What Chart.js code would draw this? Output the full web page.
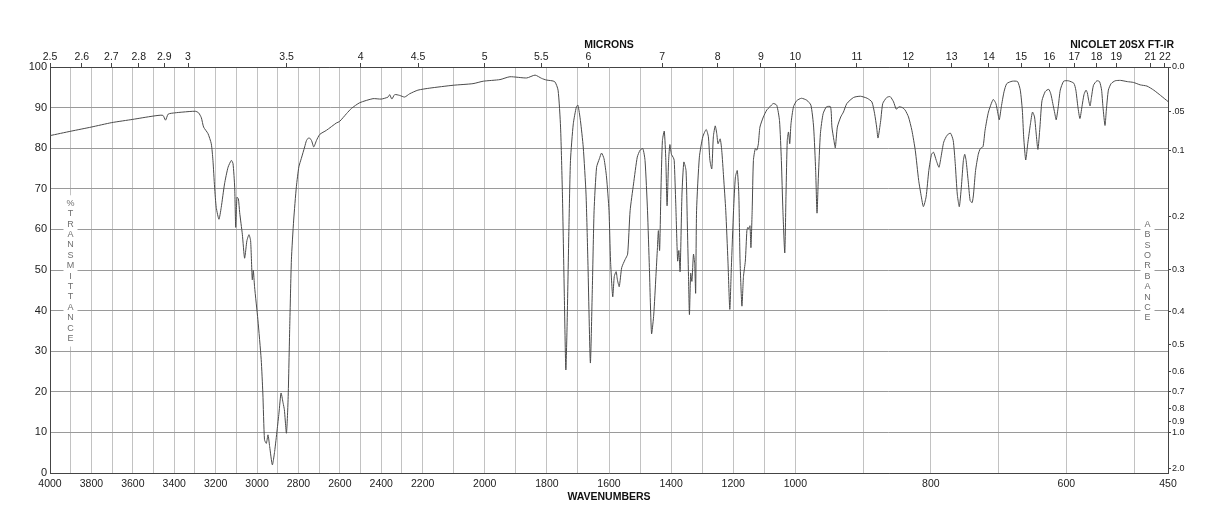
<!DOCTYPE html>
<html>
<head>
<meta charset="utf-8">
<title>IR spectrum</title>
<script src="https://cdn.jsdelivr.net/npm/chart.js@4.4.1/dist/chart.umd.min.js"></script>
<style>
  html, body { margin: 0; padding: 0; background: #fff; }
  #wrap { width: 1218px; height: 528px; }
</style>
</head>
<body>
<div id="wrap"><canvas id="irChart" width="1218" height="528"></canvas></div>
<script>
// Spectrum (cm-1, %T)
const wavenumbers = [
  4000, 3898, 3801, 3702, 3600, 3503, 3455, 3442, 3429, 3398, 3358, 3298, 3282, 3269, 3258, 3237,
  3221, 3213, 3205, 3197, 3184, 3173, 3157, 3140, 3124, 3116, 3108, 3103, 3097, 3090, 3084, 3071,
  3060, 3049, 3039, 3031, 3023, 3018, 3012, 2996, 2980, 2972, 2964, 2955, 2947, 2939, 2926, 2915,
  2903, 2894, 2884, 2874, 2868, 2858, 2850, 2842, 2834, 2823, 2810, 2798, 2786, 2770, 2761, 2749,
  2737, 2726, 2713, 2697, 2665, 2617, 2601, 2568, 2544, 2504, 2440, 2400, 2367, 2359, 2349, 2335,
  2311, 2287, 2263, 2223, 2177, 2102, 2038, 2005, 1951, 1919, 1865, 1838, 1817, 1802, 1775, 1764,
  1756, 1750, 1744, 1739, 1735, 1729, 1724, 1715, 1705, 1700, 1692, 1683, 1674, 1668, 1660, 1654,
  1648, 1640, 1631, 1624, 1616, 1608, 1600, 1595, 1588, 1583, 1577, 1573, 1567, 1559, 1548, 1540,
  1532, 1521, 1509, 1500, 1491, 1484, 1476, 1470, 1463, 1456, 1449, 1444, 1441, 1437, 1433, 1428,
  1422, 1417, 1413, 1408, 1404, 1399, 1393, 1390, 1385, 1379, 1375, 1371, 1365, 1359, 1352, 1348,
  1344, 1341, 1337, 1333, 1328, 1324, 1321, 1318, 1309, 1298, 1287, 1280, 1275, 1269, 1264, 1258,
  1253, 1249, 1242, 1237, 1231, 1224, 1217, 1211, 1206, 1199, 1193, 1187, 1182, 1178, 1172, 1167,
  1161, 1156, 1153, 1150, 1146, 1143, 1139, 1135, 1129, 1124, 1119, 1114, 1103, 1092, 1082, 1071,
  1060, 1051, 1045, 1040, 1034, 1030, 1026, 1022, 1018, 1014, 1006, 998, 991, 983, 977, 973,
  970, 968, 966, 963, 959, 954, 948, 946, 943, 941, 938, 933, 929, 924, 914, 904,
  894, 887, 883, 880, 878, 874, 871, 865, 860, 855, 851, 847, 842, 838, 833, 828,
  823, 818, 814, 811, 807, 803, 799, 796, 792, 788, 785, 781, 776, 771, 767, 764,
  761, 758, 755, 752, 750, 748, 745, 742, 739, 737, 734, 730, 727, 723, 720, 715,
  708, 704, 701, 699, 696, 692, 688, 680, 672, 668, 665, 663, 660, 657, 653, 650,
  647, 645, 642, 639, 636, 631, 626, 623, 620, 617, 615, 612, 609, 604, 597, 589,
  586, 583, 580, 577, 574, 571, 569, 567, 565, 563, 560, 555, 551, 548, 546, 543,
  541, 538, 534, 528, 520, 510, 501, 491, 481, 471, 461, 450
];
const transmittance = [
  83.1, 84.2, 85.2, 86.3, 87.1, 87.9, 88.1, 86.9, 88.4, 88.7, 88.9, 89.1, 88.7, 87.5, 85.2, 83.6,
  81.1, 77.0, 70.4, 65.4, 62.5, 65.4, 71.2, 75.3, 77.0, 76.2, 70.4, 60.5, 67.9, 67.5, 64.2, 58.8,
  52.9, 57.2, 58.7, 57.2, 47.6, 49.9, 45.9, 37.8, 28.0, 19.7, 8.2, 7.3, 9.4, 6.5, 2.0, 5.3,
  10.6, 14.8, 19.7, 17.2, 15.6, 9.8, 18.1, 36.1, 52.5, 62.3, 70.5, 75.4, 77.5, 80.3, 81.9, 82.6,
  81.9, 80.3, 81.9, 83.4, 84.4, 86.2, 86.6, 88.5, 89.8, 91.2, 92.2, 92.1, 92.6, 93.2, 92.1, 93.2,
  93.0, 92.6, 93.4, 94.3, 94.8, 95.5, 95.9, 96.5, 96.9, 97.6, 97.3, 98.0, 97.2, 96.8, 96.4, 94.3,
  85.2, 68.7, 44.3, 25.4, 36.1, 60.5, 77.0, 86.0, 90.2, 90.6, 86.8, 80.3, 68.7, 52.2, 27.1, 44.3,
  64.6, 75.3, 77.4, 78.8, 77.4, 72.9, 64.6, 52.2, 43.4, 48.4, 49.6, 47.6, 45.9, 50.6, 52.6, 53.9,
  64.6, 71.2, 77.8, 79.5, 79.9, 77.0, 64.6, 50.6, 34.3, 38.9, 48.4, 55.5, 59.7, 54.8, 68.7, 81.9,
  84.2, 77.0, 65.8, 77.0, 80.9, 78.5, 77.7, 77.0, 66.3, 52.2, 54.8, 49.6, 68.7, 76.6, 74.5, 62.1,
  48.4, 39.0, 49.2, 47.2, 53.9, 51.4, 44.3, 64.6, 77.8, 82.8, 84.6, 82.8, 77.0, 74.9, 82.8, 85.5,
  83.6, 81.1, 82.3, 79.5, 72.9, 64.6, 52.2, 40.3, 50.6, 64.6, 72.9, 74.5, 68.7, 52.2, 41.1, 48.4,
  52.2, 59.7, 60.5, 60.1, 60.9, 55.5, 64.6, 77.0, 79.9, 79.5, 81.1, 85.2, 87.7, 89.4, 90.2, 91.0,
  90.6, 86.8, 77.0, 64.6, 54.2, 68.7, 81.9, 84.0, 81.1, 86.0, 90.2, 91.7, 92.3, 91.8, 90.6, 85.2,
  74.5, 64.0, 72.9, 83.6, 88.5, 90.2, 90.2, 85.2, 81.9, 80.1, 85.2, 87.7, 88.9, 91.0, 92.5, 92.8,
  92.3, 91.4, 88.5, 85.2, 82.5, 86.8, 91.0, 92.5, 92.7, 91.4, 89.6, 90.2, 90.0, 89.4, 87.7, 84.4,
  79.5, 72.1, 68.0, 65.6, 68.0, 74.5, 78.5, 79.0, 77.0, 75.3, 77.8, 81.5, 83.2, 83.7, 81.9, 76.2,
  68.7, 65.6, 70.4, 77.0, 78.5, 77.0, 72.1, 67.1, 66.6, 68.7, 74.5, 78.5, 79.9, 80.4, 84.4, 88.9,
  92.0, 91.0, 88.5, 87.0, 90.2, 93.9, 95.9, 96.5, 96.4, 94.3, 89.4, 82.8, 77.1, 81.1, 86.0, 88.9,
  87.7, 84.4, 79.7, 85.2, 91.7, 94.0, 94.5, 93.4, 91.0, 88.5, 87.0, 90.2, 94.3, 96.5, 96.6, 96.0,
  94.3, 90.2, 87.3, 90.2, 93.2, 94.3, 93.6, 91.7, 90.4, 92.5, 95.5, 96.6, 96.4, 94.3, 90.2, 85.6,
  89.4, 94.3, 95.9, 96.6, 96.7, 96.4, 96.2, 95.6, 95.3, 94.3, 93.0, 91.5
];

// Axis labels
const wavenumberLabels = [4000, 3800, 3600, 3400, 3200, 3000, 2800, 2600, 2400, 2200,
  2000, 1800, 1600, 1400, 1200, 1000, 800, 600, 450];
const micronLabels = ['2.5', '2.6', '2.7', '2.8', '2.9', '3', '3.5', '4', '4.5', '5', '5.5', '6',
  '7', '8', '9', '10', '11', '12', '13', '14', '15', '16', '17', '18', '19', '21', '22'];
const absorbanceValues = [0, 0.05, 0.1, 0.2, 0.3, 0.4, 0.5, 0.6, 0.7, 0.8, 0.9, 1.0, 2.0];
const absorbanceLabels = ['0.0', '.05', '0.1', '0.2', '0.3', '0.4', '0.5', '0.6', '0.7', '0.8', '0.9', '1.0', '2.0'];

// The wavenumber axis is split in three pieces of equal width
const axisBreaks = [4000, 2200, 1000, 450];

// vertical grid every 100 cm-1, plus the 450 end
const gridWavenumbers = [];
for (let v = 4000; v >= 500; v -= 100) gridWavenumbers.push(v);
gridWavenumbers.push(450);

function breakFraction(v) {
  const n = axisBreaks.length - 1;
  for (let i = 0; i < n; i++) {
    const hi = axisBreaks[i], lo = axisBreaks[i + 1];
    if (v >= lo || i === n - 1) {
      return (i + (hi - v) / (hi - lo)) / n;
    }
  }
}

function fractionToValue(f) {
  const n = axisBreaks.length - 1;
  const i = Math.min(n - 1, Math.max(0, Math.floor(f * n)));
  const t = f * n - i;
  return axisBreaks[i] - t * (axisBreaks[i] - axisBreaks[i + 1]);
}

class BrokenScale extends Chart.LinearScale {
  getPixelForValue(value) {
    return this.left + breakFraction(value) * this.width;
  }
  getValueForPixel(pixel) {
    return fractionToValue((pixel - this.left) / this.width);
  }
}
BrokenScale.id = 'broken';
BrokenScale.defaults = Chart.LinearScale.defaults;
Chart.register(BrokenScale);

const FONT = '"Liberation Sans", Arial, Helvetica, sans-serif';
Chart.defaults.font.family = FONT;
Chart.defaults.color = '#222';

function drawStacked(ctx, text, x, y0, step) {
  ctx.fillStyle = '#fff';
  ctx.fillRect(x - 7, y0 - 8, 14, (text.length - 1) * step + 16);
  ctx.fillStyle = '#6e6e6e';
  ctx.font = '9px ' + FONT;
  ctx.textAlign = 'center';
  ctx.textBaseline = 'middle';
  for (let i = 0; i < text.length; i++) {
    ctx.fillText(text[i], x, y0 + i * step);
  }
}

const decorations = {
  id: 'decorations',
  beforeDatasetsDraw(chart) {
    const { ctx, chartArea } = chart;
    ctx.save();
    drawStacked(ctx, '%TRANSMITTANCE', chartArea.left + 20.5, chartArea.top + 136.3, 10.4);
    drawStacked(ctx, 'ABSORBANCE', chartArea.right - 20.5, chartArea.top + 157.3, 10.4);
    ctx.restore();
  },
  afterDraw(chart) {
    const { ctx, chartArea } = chart;
    const cx = (chartArea.left + chartArea.right) / 2;
    ctx.save();
    ctx.fillStyle = '#111';
    ctx.font = 'bold 10.5px ' + FONT;
    ctx.textBaseline = 'middle';
    ctx.textAlign = 'center';
    ctx.fillText('MICRONS', cx, 45);
    ctx.fillText('WAVENUMBERS', cx, 497);
    ctx.textAlign = 'right';
    ctx.fillText('NICOLET 20SX FT-IR', 1174, 45);
    ctx.restore();
  }
};

new Chart(document.getElementById('irChart'), {
  type: 'line',
  data: {
    datasets: [{
      data: wavenumbers.map((w, i) => ({ x: w, y: transmittance[i] })),
      borderColor: '#4a4a4a',
      borderWidth: 1,
      pointRadius: 0,
      tension: 0.2,
      fill: false,
      xAxisID: 'x',
      yAxisID: 'y'
    }]
  },
  options: {
    responsive: false,
    animation: false,
    devicePixelRatio: 1,
    layout: { padding: 0 },
    plugins: {
      legend: { display: false },
      tooltip: { enabled: false }
    },
    scales: {
      x: {
        type: 'broken',
        position: 'bottom',
        min: 450,
        max: 4000,
        afterBuildTicks: s => { s.ticks = gridWavenumbers.map(v => ({ value: v })); },
        afterFit: s => { s.height = 55; },
        grid: { color: '#c2c2c2', drawTicks: false },
        border: { color: '#444' },
        ticks: {
          autoSkip: false,
          maxRotation: 0,
          padding: 5,
          font: { size: 10.5 },
          callback: v => wavenumberLabels.includes(v) ? String(v) : ''
        }
      },
      x2: {
        type: 'broken',
        position: 'top',
        min: 450,
        max: 4000,
        afterBuildTicks: s => { s.ticks = micronLabels.map(m => ({ value: 1e4 / parseFloat(m) })); },
        afterFit: s => { s.height = 67; },
        grid: { drawOnChartArea: false, tickLength: 4, color: '#444' },
        border: { color: '#444' },
        ticks: {
          autoSkip: false,
          maxRotation: 0,
          padding: 0,
          font: { size: 10.5 },
          callback: (v, i) => micronLabels[i]
        }
      },
      y: {
        position: 'left',
        min: 0,
        max: 100,
        afterFit: s => { s.width = 50; },
        grid: { color: '#9a9a9a', drawTicks: false },
        border: { color: '#444' },
        ticks: { stepSize: 10, padding: 3, font: { size: 11 } }
      },
      yA: {
        position: 'right',
        min: 0,
        max: 100,
        afterBuildTicks: s => {
          s.ticks = absorbanceValues.map(a => ({ value: 100 * Math.pow(10, -a) }));
        },
        afterFit: s => { s.width = 50; },
        grid: { drawOnChartArea: false, tickLength: 3, color: '#444' },
        border: { color: '#444' },
        ticks: {
          autoSkip: false,
          padding: 1,
          font: { size: 9 },
          callback: (v, i) => absorbanceLabels[i]
        }
      }
    }
  },
  plugins: [decorations]
});
</script>
</body>
</html>
